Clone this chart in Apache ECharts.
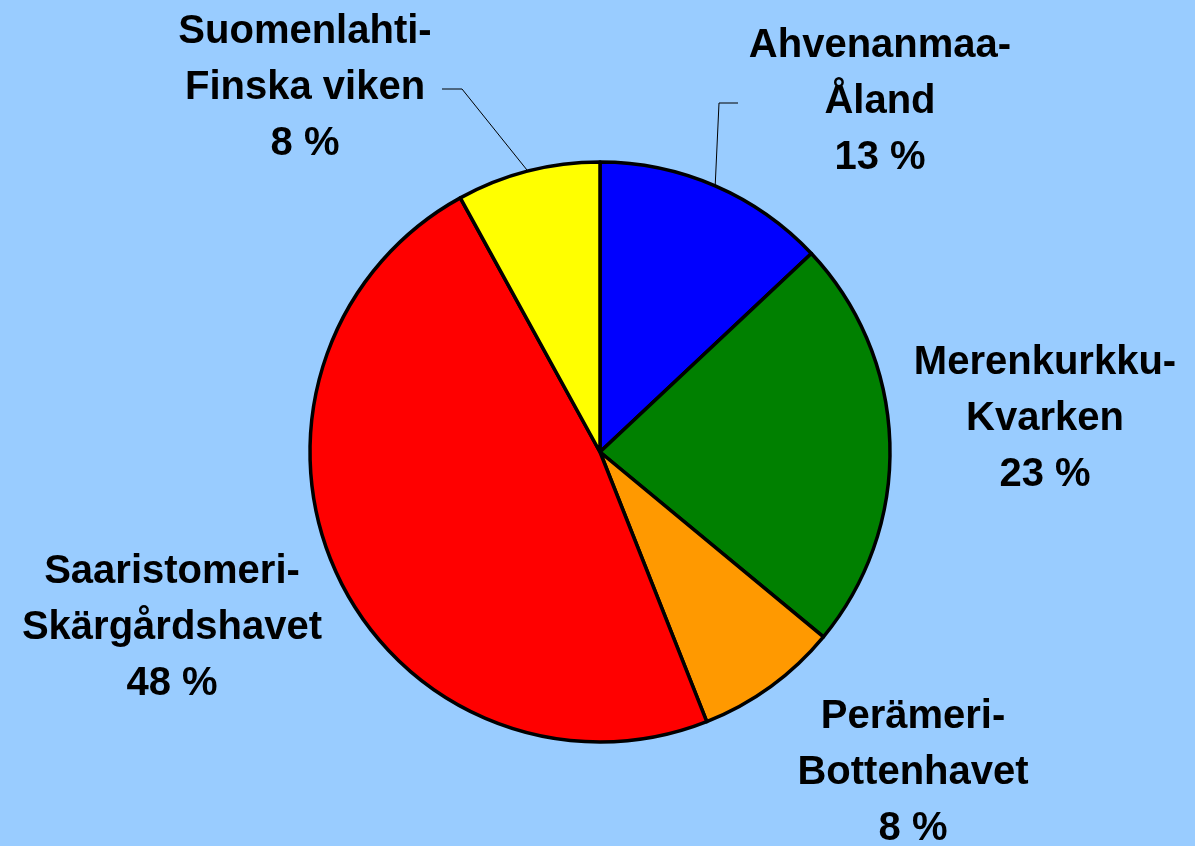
<!DOCTYPE html>
<html>
<head>
<meta charset="utf-8">
<script src="https://cdn.jsdelivr.net/npm/echarts@6/dist/echarts.min.js"></script>
<style>
  html, body { margin: 0; padding: 0; background: #99ccff; }
  #chart { width: 1195px; height: 846px; }
</style>
</head>
<body>
<div id="chart"></div>
<script>
// sea areas, clockwise from the top
const areas = [
  "Ahvenanmaa-\nÅland",
  "Merenkurkku-\nKvarken",
  "Perämeri-\nBottenhavet",
  "Saaristomeri-\nSkärgårdshavet",
  "Suomenlahti-\nFinska viken"
]
const shares = [13, 23, 8, 48, 8]
const colors = ["#0000ff", "#008000", "#ff9900", "#ff0000", "#ffff00"]

// where each label block sits (centre), and whether it gets a leader line
const labelSpots = [
  { x: 880, y: 102, line: [[719, 103], [738, 103]] },
  { x: 1045, y: 419 },
  { x: 913, y: 773 },
  { x: 172, y: 628 },
  { x: 305, y: 88, line: [[462, 89], [442, 89]] }
]

const chart = echarts.init(document.getElementById("chart"))
chart.setOption({
  backgroundColor: "#99ccff",
  animation: false,
  series: [
    {
      type: "pie",
      center: [600, 452],
      radius: 290,
      startAngle: 90,
      clockwise: true,
      data: areas.map((name, i) => ({
        name,
        value: shares[i],
        itemStyle: { color: colors[i] },
        labelLine: { show: !!labelSpots[i].line }
      })),
      itemStyle: { borderColor: "#000", borderWidth: 3.5 },
      label: {
        show: true,
        position: "outside",
        formatter: "{b}\n{c} %",
        fontFamily: "Liberation Sans, Arial, sans-serif",
        fontWeight: "bold",
        fontSize: 40,
        lineHeight: 56,
        color: "#000",
        align: "center",
        overflow: "none"
      },
      labelLine: {
        lineStyle: { color: "#000", width: 1 }
      },
      labelLayout: (params) => {
        const s = labelSpots[params.dataIndex]
        const out = { x: s.x, y: s.y, align: "center", verticalAlign: "middle" }
        if (s.line && params.labelLinePoints) {
          out.labelLinePoints = [params.labelLinePoints[0], s.line[0], s.line[1]]
        }
        return out
      }
    }
  ]
})
</script>
</body>
</html>
